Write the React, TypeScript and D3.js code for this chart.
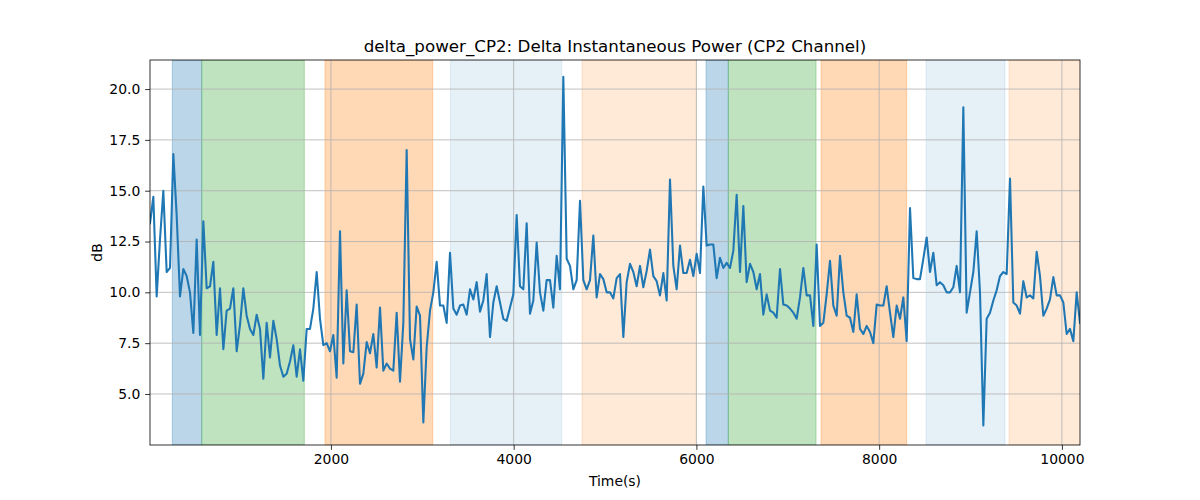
import React, { useEffect, useRef } from 'react';
import * as d3 from 'd3';

// sampled every STEP seconds starting at START
const START = 20;
const STEP = 36.48;

const power: number[] = [
    13.4, 14.7, 9.8, 12.6, 15.0, 11.0, 11.2, 16.8, 13.8, 9.8,
    11.15, 10.8, 10.0, 8.0, 12.6, 7.9, 13.5, 10.2, 10.3, 11.5,
    7.9, 10.2, 7.2, 9.1, 9.2, 10.2, 7.1, 8.4, 10.2, 8.85,
    8.2, 7.9, 8.9, 8.2, 5.75, 8.5, 6.8, 8.6, 7.7, 6.4,
    5.85, 6.0, 6.6, 7.4, 5.85, 7.2, 5.65, 8.2,
    8.2, 9.2, 11.0, 8.7, 7.4, 7.5, 7.1, 7.9, 5.8, 13.0,
    6.5, 10.1, 7.1, 7.05, 9.4, 5.5, 6.0, 7.55, 7.0, 7.95,
    6.3, 9.25, 6.15, 6.5, 6.25, 6.15, 9.0, 5.6, 8.5, 17.0,
    7.7, 6.7, 9.3, 8.85, 3.6, 7.3, 9.1, 10.0, 11.5, 9.35,
    9.35, 8.5, 11.95, 9.2, 8.9, 9.35, 9.4, 8.9,
    10.15, 9.65, 10.5, 9.05, 9.6, 10.9, 7.8, 9.5, 10.3, 9.5,
    8.7, 8.6, 9.25, 9.9, 13.8, 10.3, 10.15, 13.4, 8.95, 9.6,
    12.45, 10.0, 9.1, 10.6, 10.6, 9.25, 11.8, 10.15, 20.6, 11.65,
    11.3, 10.15, 10.6, 14.5, 10.6, 10.15, 10.6, 12.8, 9.75, 10.9,
    10.65, 10.0, 10.0, 9.7, 10.7, 10.9, 7.8, 10.5,
    11.4, 11.0, 10.3, 11.3, 10.25, 11.05, 12.1, 10.8, 10.55, 9.85,
    10.95, 9.6, 15.55, 11.3, 10.15, 12.3, 10.95, 10.95, 11.6, 10.8,
    11.9, 10.95, 15.2, 12.3, 12.35, 12.35, 10.7, 11.7, 11.2, 11.45,
    11.2, 12.05, 14.8, 11.0, 14.25, 10.5, 11.4, 11.0, 10.15, 10.9,
    8.9, 9.9, 9.1, 9.0, 8.75, 11.15, 9.4, 9.35,
    9.2, 9.0, 8.7, 9.75, 11.2, 9.85, 9.85, 8.35, 12.35, 8.35,
    8.5, 9.9, 11.55, 9.35, 8.85, 11.8, 10.0, 8.85, 8.75, 8.05,
    9.9, 8.2, 7.95, 8.35, 8.05, 7.5, 9.4, 9.35, 9.35, 10.3,
    9.0, 7.8, 9.35, 8.7, 9.75, 7.6, 14.15, 10.7, 10.65, 10.65,
    11.65, 12.7, 11.0, 11.95, 10.35, 10.5, 10.35, 10.0,
    10.0, 10.25, 11.3, 10.0, 19.1, 9.0, 10.0, 11.0, 13.0, 10.0,
    3.45, 8.7, 9.0, 9.6, 10.1, 10.8, 11.0, 10.9, 15.6, 9.5,
    9.35, 8.95, 10.55, 9.75, 9.85, 9.7, 12.0, 10.8, 8.85, 9.2,
    9.65, 10.75, 9.85, 9.85, 9.5, 7.95, 8.2, 7.6, 10.0, 8.5,
];

// shaded phases
const spanStart = [264, 586, 1935, 3307, 4748, 6105, 6349, 7364, 8513, 9421];
const spanEnd = [586, 1709, 3114, 4526, 5999, 6349, 7309, 8301, 9377, 10400];
const spanKind = ['blue', 'green', 'orange', 'lightblue', 'lightorange', 'blue', 'green', 'orange', 'lightblue', 'lightorange'];

const xTicks = [2000, 4000, 6000, 8000, 10000];
const yTicks = [5, 7.5, 10, 12.5, 15, 17.5, 20];

const spanStyle: Record<string, [string, number]> = {
    blue: ['#1f77b4', 0.3],
    green: ['#2ca02c', 0.3],
    orange: ['#ff7f0e', 0.3],
    lightblue: ['#1f77b4', 0.11],
    lightorange: ['#ff7f0e', 0.16],
};

export default function App() {
    const svgRef = useRef<SVGSVGElement>(null);

    useEffect(() => {
        if (!svgRef.current) return;
        const width = 1200;
        const height = 500;
        const m = { left: 150, right: 1080, top: 60, bottom: 445 };
        const font = 'DejaVu Sans, sans-serif';

        const svg = d3.select(svgRef.current);
        svg.selectAll('*').remove();

        const tEnd = START + STEP * (power.length - 1);
        const x = d3.scaleLinear().domain([START, tEnd]).range([m.left, m.right]);
        const y = d3.scaleLinear().domain([2.49, 21.43]).range([m.bottom, m.top]);

        svg.append('rect').attr('width', width).attr('height', height).attr('fill', 'white');

        svg.append('defs').append('clipPath').attr('id', 'plot')
            .append('rect')
            .attr('x', m.left).attr('y', m.top)
            .attr('width', m.right - m.left).attr('height', m.bottom - m.top);

        const plot = svg.append('g').attr('clip-path', 'url(#plot)');

        // spans
        plot.selectAll('.span')
            .data(spanStart.map((s, i) => ({ s, e: spanEnd[i], k: spanKind[i] })))
            .enter()
            .append('rect')
            .attr('x', d => x(d.s))
            .attr('y', m.top)
            .attr('width', d => x(d.e) - x(d.s))
            .attr('height', m.bottom - m.top)
            .attr('fill', d => spanStyle[d.k][0])
            .attr('fill-opacity', d => spanStyle[d.k][1])
            .attr('stroke', d => spanStyle[d.k][0])
            .attr('stroke-opacity', d => spanStyle[d.k][1])
            .attr('stroke-width', 1);

        // grid
        plot.selectAll('.gx').data(xTicks).enter().append('line')
            .attr('x1', d => x(d)).attr('x2', d => x(d))
            .attr('y1', m.top).attr('y2', m.bottom)
            .attr('stroke', '#b0b0b0').attr('stroke-width', 0.8);
        plot.selectAll('.gy').data(yTicks).enter().append('line')
            .attr('x1', m.left).attr('x2', m.right)
            .attr('y1', d => y(d)).attr('y2', d => y(d))
            .attr('stroke', '#b0b0b0').attr('stroke-width', 0.8);

        // series
        const line = d3.line<number>()
            .x((_, i) => x(START + i * STEP))
            .y(d => y(d));
        plot.append('path')
            .attr('d', line(power))
            .attr('fill', 'none')
            .attr('stroke', '#1f77b4')
            .attr('stroke-width', 2.08)
            .attr('stroke-linejoin', 'round')
            .attr('stroke-linecap', 'square');

        // frame
        svg.append('rect')
            .attr('x', m.left).attr('y', m.top)
            .attr('width', m.right - m.left).attr('height', m.bottom - m.top)
            .attr('fill', 'none').attr('stroke', 'black').attr('stroke-width', 0.8);

        // axes
        const xAxis = svg.append('g')
            .attr('transform', `translate(0,${m.bottom})`)
            .call(d3.axisBottom(x).tickValues(xTicks).tickSize(4.86).tickPadding(4.5).tickFormat(d => `${d}`));
        xAxis.select('.domain').remove();
        xAxis.selectAll('line').attr('stroke', 'black').attr('stroke-width', 0.8);
        xAxis.selectAll('text').attr('fill', 'black').attr('font-family', font).attr('font-size', '13.9px');

        const yAxis = svg.append('g')
            .attr('transform', `translate(${m.left},0)`)
            .call(d3.axisLeft(y).tickValues(yTicks).tickSize(4.86).tickPadding(4.86).tickFormat(d => d3.format('.1f')(d as number)));
        yAxis.select('.domain').remove();
        yAxis.selectAll('line').attr('stroke', 'black').attr('stroke-width', 0.8);
        yAxis.selectAll('text').attr('fill', 'black').attr('font-family', font).attr('font-size', '13.9px');

        // labels
        svg.append('text')
            .attr('x', (m.left + m.right) / 2).attr('y', 52)
            .attr('text-anchor', 'middle')
            .attr('font-family', font).attr('font-size', '16.7px')
            .text('delta_power_CP2: Delta Instantaneous Power (CP2 Channel)');

        svg.append('text')
            .attr('x', (m.left + m.right) / 2).attr('y', 486)
            .attr('text-anchor', 'middle')
            .attr('font-family', font).attr('font-size', '13.9px')
            .text('Time(s)');

        svg.append('text')
            .attr('transform', `translate(102,${(m.top + m.bottom) / 2}) rotate(-90)`)
            .attr('text-anchor', 'middle')
            .attr('font-family', font).attr('font-size', '13.9px')
            .text('dB');
    }, []);

    return (
        <svg
            ref={svgRef}
            width={1200}
            height={500}
            viewBox="0 0 1200 500"
            style={{ position: 'absolute', left: 0, top: 0 }}
        />
    );
}
